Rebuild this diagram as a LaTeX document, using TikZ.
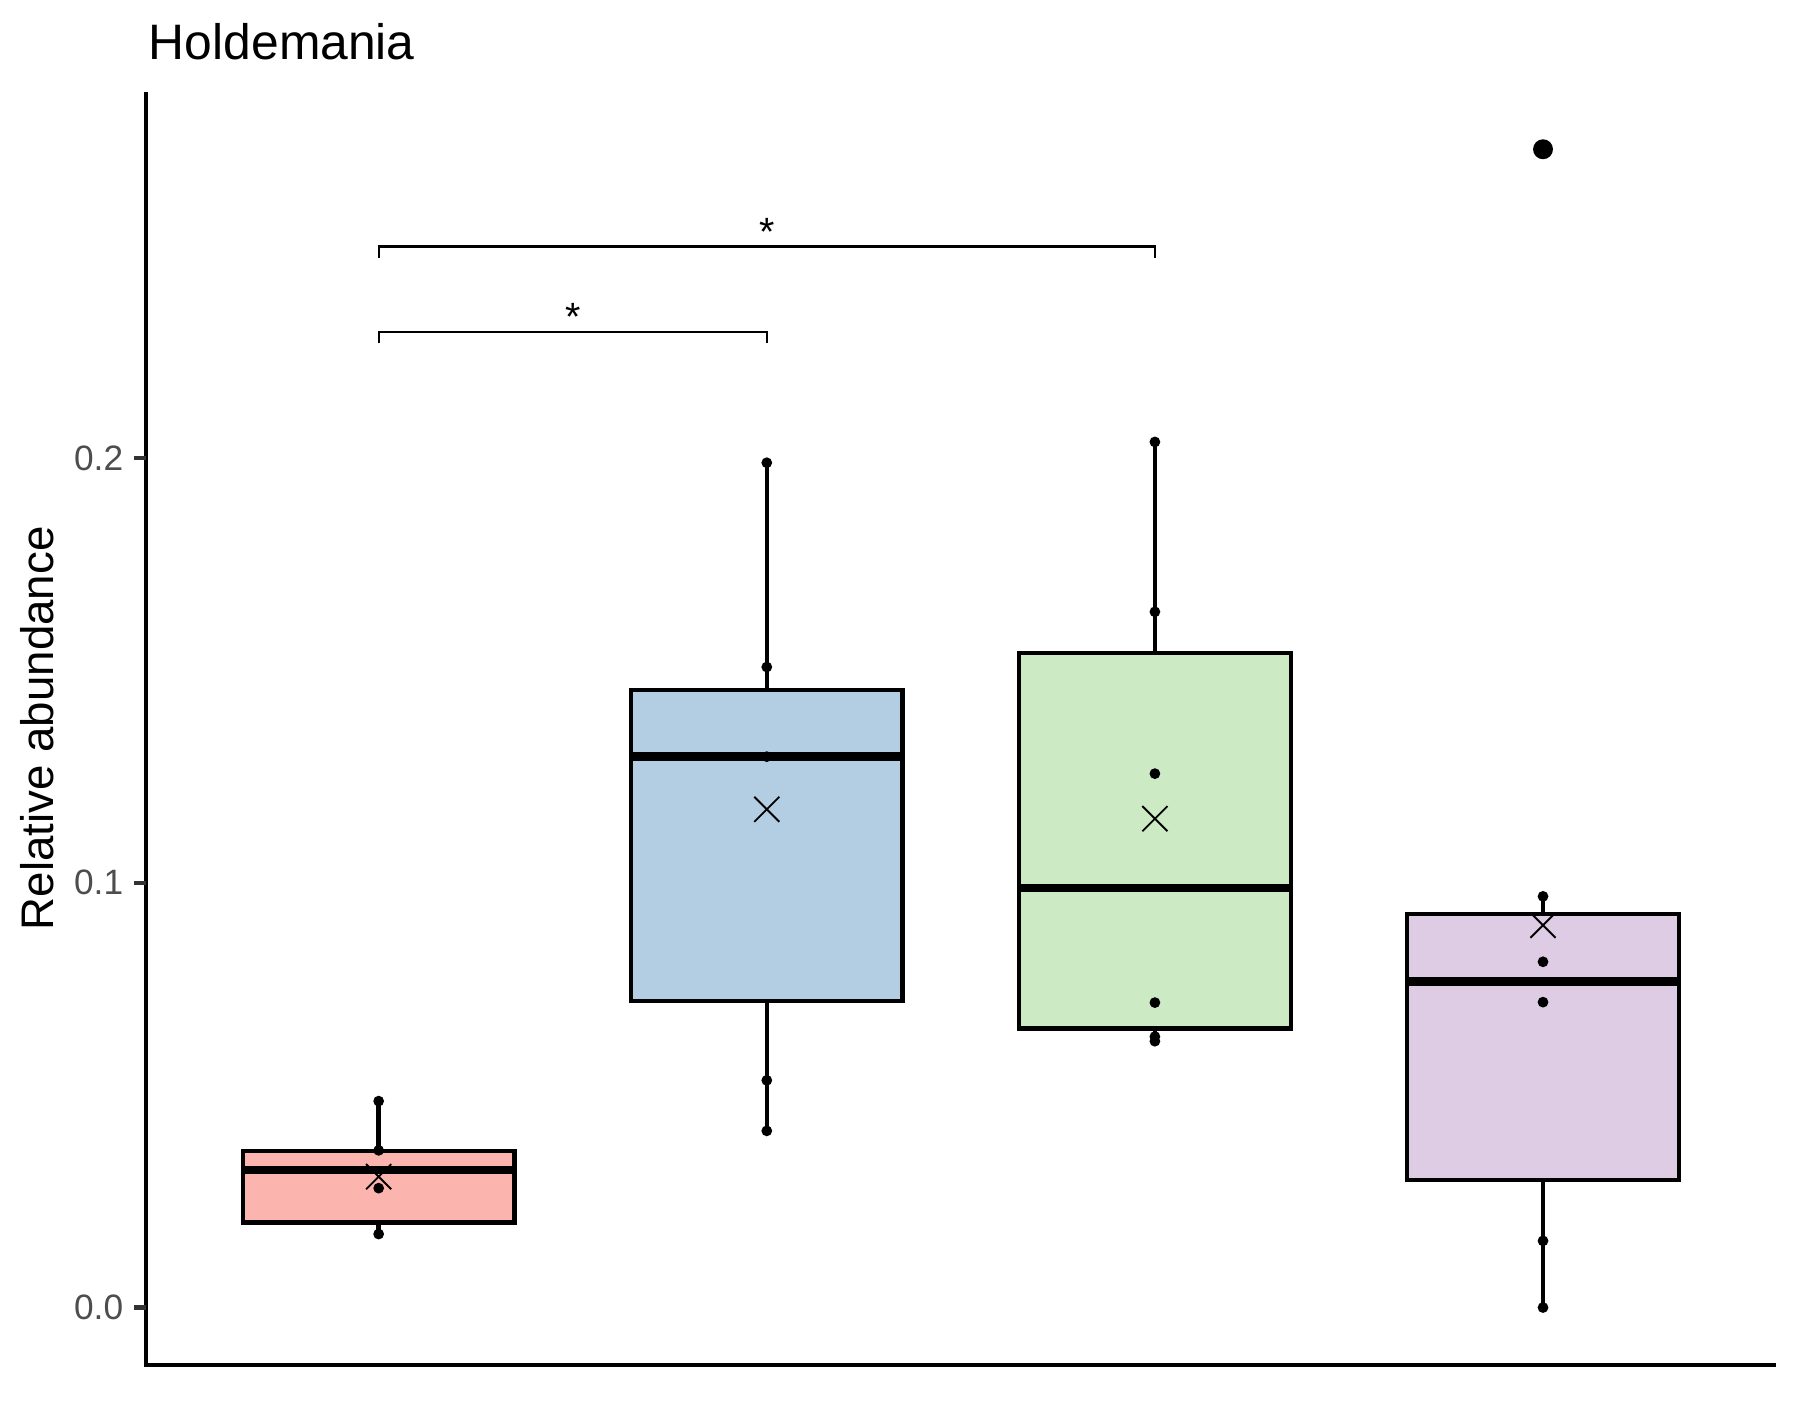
\documentclass[tikz,border=0pt]{standalone}
\usepackage{fontspec}
\setmainfont{Liberation Sans}
\usetikzlibrary{shapes.misc}

\definecolor{boxRed}{HTML}{FBB4AE}
\definecolor{boxBlue}{HTML}{B3CDE3}
\definecolor{boxGreen}{HTML}{CCEBC5}
\definecolor{boxPurple}{HTML}{DECBE4}
\definecolor{tickGrey}{HTML}{4D4D4D}
\definecolor{tickDark}{HTML}{333333}

\begin{document}
\begin{tikzpicture}
  [x=0.276543pt,y=-0.276543pt,
   axisline/.style={line width=1.05pt},
   boxbody/.style={draw,line width=1.05pt},
   whisker/.style={line width=1.05pt},
   median/.style={line width=2.1pt},
   meanmark/.style={cross out,draw,line width=0.45pt,minimum size=5.6pt,inner sep=0pt},
   bracket/.style={line width=0.5pt},
   ticklabel/.style={anchor=east,inner sep=0pt,text=tickGrey,font=\fontsize{8.5}{10}\selectfont},
   star/.style={anchor=north,inner sep=0pt,font=\fontsize{9.5}{11}\selectfont}]
  \useasboundingbox (0,0) rectangle (1568,1219.6);
  \node[anchor=base west,inner sep=0pt,font=\fontsize{12}{14}\selectfont] (title) at (129,52) {Holdemania};

  \begin{scope}[shift={(-8.24,1139)},x=93.499pt,y=1023.21pt]
    % axes and ticks
    \draw[axisline] (0.4,0.2862) -- (0.4,-0.01351) -- (4.6,-0.01351);
    \foreach \v/\n in {0.0/0,0.1/1,0.2/2} {
      \draw[axisline,tickDark] (0.3704,\v) -- (0.4,\v);
      \node[ticklabel] (ytick\n) at (0.3438,\v) {\v};
    }
    \node[anchor=base,rotate=90,inner sep=0pt,font=\fontsize{11}{13}\selectfont] (ylabel) at (0.1616,0.1364) {Relative abundance};

    % boxes: group/colour/low/q1/median/q3/high/mean
    \foreach \i/\col/\lo/\qa/\med/\qb/\hi/\mean in {
        1/boxRed/0.0173/0.0200/0.0324/0.0368/0.0486/0.0308,
        2/boxBlue/0.0416/0.0722/0.1297/0.1454/0.1989/0.1173,
        3/boxGreen/0.0627/0.0657/0.0988/0.1541/0.2038/0.1151,
        4/boxPurple/0.0/0.0300/0.0768/0.0927/0.0968/0.0900} {
      \draw[whisker] (\i,\lo) -- (\i,\qa) (\i,\qb) -- (\i,\hi);
      \draw[boxbody,fill=\col] (\i-0.35,\qa) rectangle (\i+0.35,\qb);
      \draw[median] (\i-0.35,\med) -- (\i+0.35,\med);
      \node[meanmark] (mean\i) at (\i,\mean) {};
    }

    % samples
    \foreach \i/\v in {1/0.0486,1/0.0370,1/0.0281,1/0.0173,
                       2/0.1989,2/0.1508,2/0.1297,2/0.0535,2/0.0416,
                       3/0.2038,3/0.1638,3/0.1257,3/0.0718,3/0.0638,3/0.0627,
                       4/0.0968,4/0.0814,4/0.0719,4/0.0157,4/0.0}
      \fill (\i,\v) circle[radius=1.3pt];
    \fill (4,0.2727) circle[radius=2.4pt];

    % significance brackets
    \draw[bracket] (1,0.2270) |- (2,0.2297) -- (2,0.2270);
    \node[star] (star12) at (1.5,0.2366) {*};
    \draw[bracket] (1,0.2470) |- (3,0.2498) -- (3,0.2470);
    \node[star] (star13) at (2,0.2567) {*};
  \end{scope}
\end{tikzpicture}
\end{document}
